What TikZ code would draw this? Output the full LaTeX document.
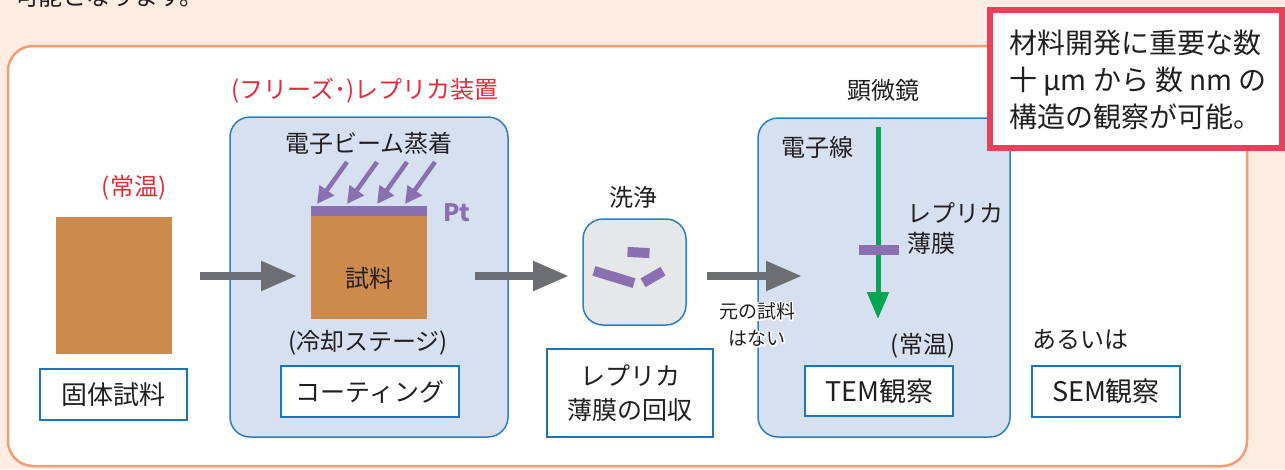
\documentclass[tikz,border=0pt]{standalone}
\usepackage{fontspec}
\setmainfont{Noto Sans CJK JP}
\usetikzlibrary{arrows.meta,calc}
\definecolor{bgpeach}{HTML}{FDECE2}
\definecolor{outerorange}{HTML}{F59C74}
\definecolor{panelfill}{HTML}{D6E0F1}
\definecolor{panelblue}{HTML}{2B7FC4}
\definecolor{boxblue}{HTML}{1C74BC}
\definecolor{washgray}{HTML}{E6E7E9}
\definecolor{brown}{HTML}{CD8A4D}
\definecolor{ptpurple}{HTML}{8A6FB1}
\definecolor{redtext}{HTML}{E22B3B}
\definecolor{calloutred}{HTML}{E8405A}
\definecolor{beamgreen}{HTML}{00A651}
\definecolor{arrowgray}{HTML}{6D6E71}
\definecolor{ink}{HTML}{231F20}
\newcommand{\fsz}[1]{\fontsize{#1}{#1}\selectfont}
\begin{document}
\begin{tikzpicture}[x=1pt,y=-1pt,
  every node/.style={inner sep=0pt,outer sep=0pt,text=ink},
  txt/.style={font=\fsz{24}},
  redtxt/.style={font=\fsz{24},text=redtext},
  panel/.style={draw=panelblue,line width=1.5pt,fill=panelfill,rounded corners=20pt},
  labelbox/.style={draw=boxblue,line width=2.5pt,fill=white,font=\fsz{25}},
  brownblock/.style={fill=brown},
  purplebar/.style={fill=ptpurple},
  bigarrow/.style={draw=arrowgray,line width=8pt,-{Triangle[length=36pt,width=28pt]}},
  evaparrow/.style={draw=ptpurple,line width=4.5pt,-{Triangle[length=17pt,width=17pt]}},
  greenarrow/.style={draw=beamgreen,line width=5pt,-{Triangle[length=27pt,width=21pt]}},
]
\useasboundingbox (0,0) rectangle (1285,469);
\fill[bgpeach] (0,0) rectangle (1285,469);
\node[anchor=base west,font=\fsz{24}] (toptext) at (15,5) {可能となります。};
% outer frame
\draw[outerorange,line width=2.5pt,fill=white,rounded corners=25pt] (8,46) rectangle (1247,466);

% left: solid sample
\node[redtxt] (warm1) at (134,188) {(常温)};
\node[brownblock,minimum width=116pt,minimum height=137pt] (solid) at (114,285.5) {};
\node[labelbox,minimum width=147pt,minimum height=51pt,font=\fsz{26}] (solidlbl) at (113.5,394.5) {固体試料};

% coating panel
\node[redtxt] (replicadev) at (365,91) {(フリーズ･)レプリカ装置};
\node[panel,minimum width=278pt,minimum height=320pt] (coat) at (369,277) {};
\node[txt] (ebeamdep) at (369,143) {電子ビーム蒸着};
\node[purplebar,minimum width=116pt,minimum height=10pt] (ptlayer) at (369,211) {};
\node[brownblock,minimum width=116pt,minimum height=103pt] (sample2) at (369,267.5) {};
\node[txt] (sample2lbl) at (369,278) {試料};
\node[font=\fsz{24}\bfseries,text=ptpurple] (ptlbl) at (457,213) {Pt};
\foreach \i/\xs/\xe in {1/347/317,2/377/347,3/407/377,4/435/405}{
  \coordinate (evs\i) at (\xs,162);
  \coordinate (eve\i) at (\xe,204);
  \draw[evaparrow] (evs\i) -- (eve\i);
}
\node[txt] (cool) at (368,343) {(冷却ステージ)};
\node[labelbox,minimum width=178pt,minimum height=51pt] (coatlbl) at (370,391.5) {コーティング};

% wash
\node[txt] (washlbl) at (633,197) {洗浄};
\node[draw=panelblue,line width=1.5pt,fill=washgray,rounded corners=20pt,minimum width=103pt,minimum height=106pt] (wash) at (634.5,272) {};
\node[purplebar,minimum width=22pt,minimum height=10pt,rotate=-3] (frag1) at (638.5,252.5) {};
\node[purplebar,minimum width=42pt,minimum height=10pt,rotate=-17] (frag2) at (614,277) {};
\node[purplebar,minimum width=23pt,minimum height=10pt,rotate=30] (frag3) at (653,277) {};
\node[labelbox,minimum width=166pt,minimum height=88pt,align=center,font=\fontsize{25}{34}\selectfont] (recover) at (630,393) {レプリカ\\薄膜の回収};

% TEM panel
\node[txt] (microscope) at (883,90) {顕微鏡};
\node[panel,minimum width=252pt,minimum height=319pt] (tem) at (884,277.5) {};
\node[txt] (ebeamlbl) at (817,147) {電子線};
\coordinate (beamtop) at (878,127);
\coordinate (beamend) at (878,319);
\draw[greenarrow] (beamtop) -- (beamend);
\node[purplebar,minimum width=40pt,minimum height=10pt] (filmbar) at (879,250) {};
\node[txt,anchor=west] (film1) at (907,213) {レプリカ};
\node[txt,anchor=west] (film2) at (907,243) {薄膜};
\node[txt] (warm2) at (923,346) {(常温)};
\node[labelbox,minimum width=148pt,minimum height=50pt,font=\fsz{27}] (temlbl) at (879,391) {TEM観察};

% SEM
\node[txt] (orlbl) at (1080,340) {あるいは};
\node[labelbox,minimum width=148pt,minimum height=51pt,font=\fsz{27}] (semlbl) at (1106,391.5) {SEM観察};

% arrows
\draw[bigarrow] ($(solid.east|-coat.center)+(28,-1)$) -- ($(sample2.west|-coat.center)+(-14,-1)$);
\draw[bigarrow] ($(sample2.east|-coat.center)+(48,-1)$) -- ($(wash.west|-coat.center)+(-14,-1)$);
\draw[bigarrow] ($(wash.east|-coat.center)+(21,-1)$) -- ($(tem.west|-coat.center)+(44,-1)$);

% "no original sample" with white halo
\node[font=\fsz{19}\addfontfeature{FakeBold=14},text=white,align=center] (noorighalo) at (757,324.5) {元の試料\\[8pt]はない};
\node[font=\fsz{19},align=center] (noorig) at (757,324.5) {元の試料\\[8pt]はない};

% callout
\node[draw=calloutred,line width=5.5pt,fill=white,minimum width=292pt,minimum height=138pt] (callout) at (1136,79) {};
\node[anchor=base west,font=\fsz{28}] (call1) at (1009,53) {材料開発に重要な数};
\node[anchor=base west,font=\fsz{28}] (call2) at (1009,90) {十 µm から 数 nm の};
\node[anchor=base west,font=\fsz{28}] (call3) at (1009,127) {構造の観察が可能。};
\end{tikzpicture}
\end{document}
